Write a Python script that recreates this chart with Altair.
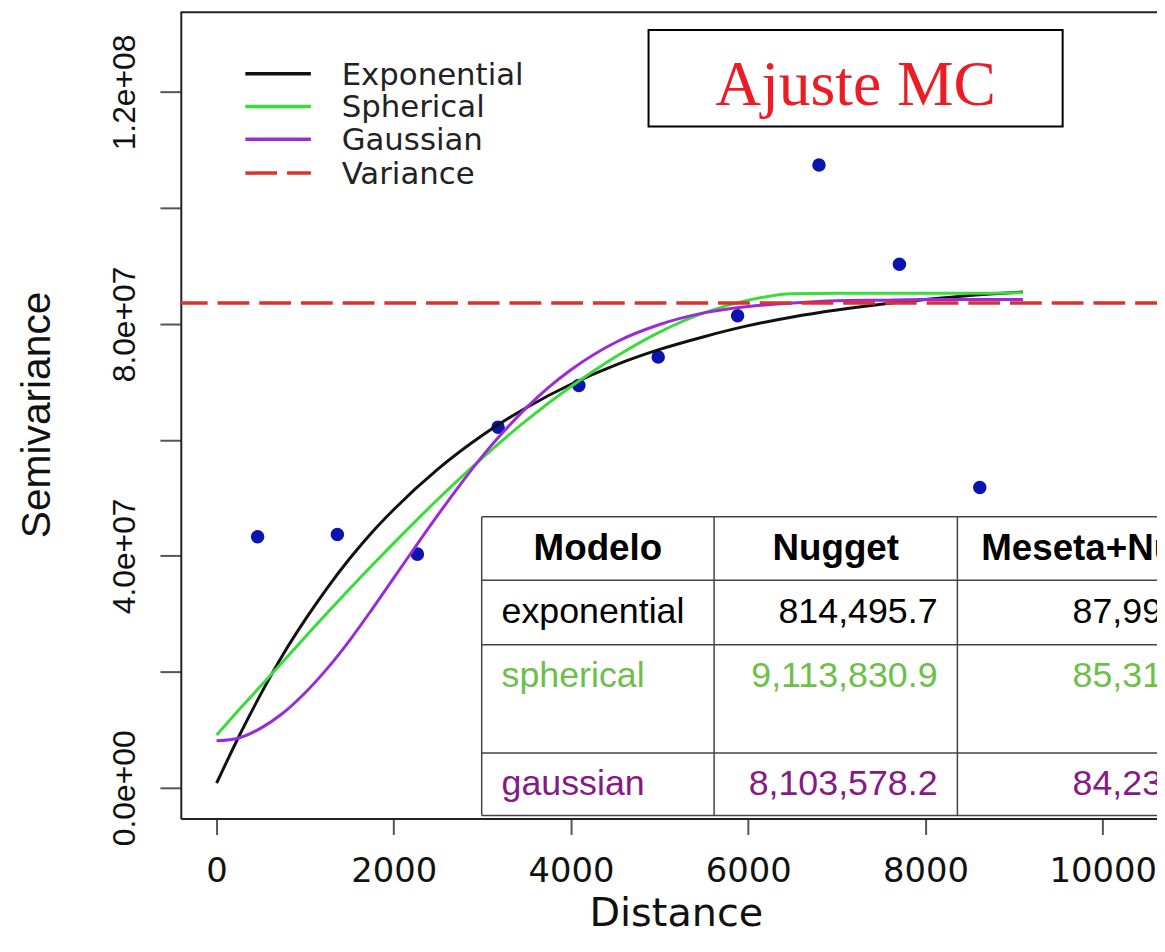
import altair as alt
import pandas as pd

# ---------------- data ----------------
lag_distance = [463, 1363, 2266, 3177, 4088, 4984, 5880, 6798, 7706, 8613]
semivariance = [43.3e6, 43.7e6, 40.3e6, 62.2e6, 69.4e6, 74.3e6, 81.4e6, 107.4e6, 90.3e6, 51.8e6]

exp_dist = [0, 250, 500, 750, 1000, 1250, 1500, 1750, 2000, 2500, 3000, 3500, 4000,
            4500, 5000, 5500, 6000, 6500, 7000, 7500, 8000, 8500, 9100]
exp_gamma = [0.8e6, 8.8e6, 16.2e6, 23.0e6, 29.0e6, 34.5e6, 39.5e6, 44.0e6, 48.0e6, 55.0e6,
             60.8e6, 65.6e6, 69.6e6, 72.9e6, 75.6e6, 77.8e6, 79.7e6, 81.2e6, 82.4e6, 83.4e6,
             84.2e6, 84.9e6, 85.5e6]

sph_dist = [0, 250, 500, 750, 1000, 1250, 1500, 1750, 2000, 2500, 3000, 3500, 4000,
            4500, 5000, 5500, 6000, 6500, 7000, 7500, 8000, 8500, 9100]
sph_gamma = [9.1e6, 13.4e6, 17.6e6, 21.8e6, 26.0e6, 30.2e6, 34.3e6, 38.3e6, 42.2e6, 49.8e6,
             56.9e6, 63.4e6, 69.2e6, 74.3e6, 78.6e6, 81.9e6, 84.1e6, 85.2e6, 85.3e6, 85.3e6,
             85.3e6, 85.3e6, 85.4e6]

gau_dist = [0, 250, 500, 750, 1000, 1250, 1500, 1750, 2000, 2250, 2500, 2750, 3000, 3250,
            3500, 3750, 4000, 4500, 5000, 5500, 6000, 6500, 7000, 7500, 8000, 8500, 9100]
gau_gamma = [8.1e6, 8.6e6, 10.3e6, 12.9e6, 16.4e6, 20.6e6, 25.4e6, 30.7e6, 36.2e6, 41.7e6,
             47.1e6, 52.3e6, 57.2e6, 61.6e6, 65.6e6, 69.1e6, 72.1e6, 76.8e6, 79.9e6, 81.9e6,
             83.0e6, 83.6e6, 84.0e6, 84.1e6, 84.2e6, 84.2e6, 84.2e6]

variance = 83.6e6

x_tick_values = [0, 2000, 4000, 6000, 8000, 10000]
y_tick_values = [0, 2e7, 4e7, 6e7, 8e7, 1e8, 1.2e8]
y_tick_labels = ["0.0e+00", "", "4.0e+07", "", "8.0e+07", "", "1.2e+08"]

legend_labels = ["Exponential", "Spherical", "Gaussian", "Variance"]
table_header = ["Modelo", "Nugget", "Meseta+Nugget"]
table_models = ["exponential", "spherical", "gaussian"]
table_nugget = ["814,495.7", "9,113,830.9", "8,103,578.2"]
table_sill_visible = ["87,99", "85,31", "84,23"]
annotation_text = "Ajuste MC"

# ---------------- styling / layout ----------------
W, H = 983, 813
C_EXP, C_SPH, C_GAU, C_VAR = "#111111", "#3ADB3A", "#9A2BD8", "#DD3030"
C_PTS = "#0B14B0"
TXT_GREEN, TXT_PURPLE = "#6CC04A", "#851A85"

x_scale = alt.Scale(domain=[-404, 10613], nice=False, zero=False)
y_scale = alt.Scale(domain=[-5.31e6, 133.93e6], nice=False, zero=False)

label_expr = ""
for v, lab in zip(y_tick_values, y_tick_labels):
    label_expr += f"datum.value == {int(v)} ? '{lab}' : "
label_expr += "''"

x_axis = alt.Axis(
    values=x_tick_values, format="d", title="Distance", grid=False,
    labelFont="DejaVu Sans", labelFontSize=34, labelColor="#111", labelPadding=20,
    labelFlush=False, labelOverlap=False,
    tickSize=16, tickWidth=2, tickColor="#555",
    domainColor="#222", domainWidth=2,
    titleFont="DejaVu Sans", titleFontSize=40, titleFontWeight="normal", titleColor="#111",
    titleX=498.5, titleY=108, titleAlign="center", titleBaseline="alphabetic",
)
y_axis = alt.Axis(
    values=y_tick_values, labelExpr=label_expr, title="Semivariance", grid=False,
    labelFont="Liberation Sans", labelFontSize=32, labelColor="#111",
    labelAngle=270, labelAlign="center", labelBaseline="alphabetic", labelPadding=26,
    labelFlush=False, labelOverlap=False,
    tickSize=21, tickWidth=2, tickColor="#555",
    domainColor="#222", domainWidth=2,
    titleFont="Liberation Sans", titleFontSize=41, titleFontWeight="normal", titleColor="#111",
    titleAngle=270, titleX=-132, titleY=406, titleAlign="center", titleBaseline="alphabetic",
)

X = alt.X("h:Q", scale=x_scale, axis=x_axis)
Y = alt.Y("g:Q", scale=y_scale, axis=y_axis)

layers = []

pts = pd.DataFrame({"h": lag_distance, "g": semivariance})
layers.append(alt.Chart(pts).mark_circle(size=185, color=C_PTS, opacity=1).encode(x=X, y=Y))

for hs, gs, col in [(exp_dist, exp_gamma, C_EXP), (sph_dist, sph_gamma, C_SPH), (gau_dist, gau_gamma, C_GAU)]:
    df = pd.DataFrame({"h": hs, "g": gs})
    layers.append(alt.Chart(df).mark_line(color=col, strokeWidth=3, interpolate="monotone").encode(x=X, y=Y))

layers.append(
    alt.Chart(pd.DataFrame({"g": [variance]}))
    .mark_rule(color=C_VAR, strokeWidth=3.5, strokeDash=[32, 10], strokeDashOffset=10)
    .encode(y=Y)
)

one = alt.Data(values=[{"k": 0}])

# top frame line
layers.append(alt.Chart(one).mark_rule(color="#222", strokeWidth=2).encode(
    x=alt.value(0), x2=alt.value(W), y=alt.value(1)))

# legend
leg_colors = [C_EXP, C_SPH, C_GAU, C_VAR]
leg_y = [63, 96, 129, 163]
for lab, col, ly in zip(legend_labels, leg_colors, leg_y):
    kw = dict(color=col, strokeWidth=3.5)
    if lab == "Variance":
        kw["strokeDash"] = [32, 10]
    layers.append(alt.Chart(one).mark_rule(**kw).encode(
        x=alt.value(65), x2=alt.value(131), y=alt.value(ly)))
    layers.append(alt.Chart(one).mark_text(
        align="left", baseline="alphabetic", font="DejaVu Sans", fontSize=31, color="#222"
    ).encode(x=alt.value(162), y=alt.value(ly + 11), text=alt.value(lab)))

# "Ajuste MC" box
layers.append(alt.Chart(one).mark_rect(fill="white", stroke="black", strokeWidth=2).encode(
    x=alt.value(471), x2=alt.value(888), y=alt.value(19), y2=alt.value(116)))
layers.append(alt.Chart(one).mark_text(
    font="Liberation Serif", fontSize=64, color="#ED1C24", align="center", baseline="alphabetic"
).encode(x=alt.value(679.5), y=alt.value(94), text=alt.value(annotation_text)))

# table
T_L, T_R, T_T, T_B = 303, 1000, 509, 810
col_x = [303, 537, 782]
row_y = [509, 573, 638, 747, 810]
layers.append(alt.Chart(one).mark_rect(fill="white").encode(
    x=alt.value(T_L), x2=alt.value(T_R), y=alt.value(T_T), y2=alt.value(T_B)))
for ry in row_y:
    layers.append(alt.Chart(one).mark_rule(color="#444", strokeWidth=1.5).encode(
        x=alt.value(T_L), x2=alt.value(T_R), y=alt.value(ry)))
for cx in col_x:
    layers.append(alt.Chart(one).mark_rule(color="#444", strokeWidth=1.5).encode(
        x=alt.value(cx), y=alt.value(T_T), y2=alt.value(T_B)))

head_pos = [(420, "center"), (659.5, "center"), (806, "left")]
for txt, (hx, al) in zip(table_header, head_pos):
    layers.append(alt.Chart(one).mark_text(
        font="Liberation Sans", fontSize=37, fontWeight="bold", color="#000", align=al, baseline="alphabetic"
    ).encode(x=alt.value(hx), y=alt.value(553), text=alt.value(txt)))

row_base = [616, 680, 789]
row_cols = ["#000000", TXT_GREEN, TXT_PURPLE]
for m, n, s, by, col in zip(table_models, table_nugget, table_sill_visible, row_base, row_cols):
    common = dict(font="Liberation Sans", fontSize=36, color=col, baseline="alphabetic")
    layers.append(alt.Chart(one).mark_text(align="left", **common).encode(
        x=alt.value(323), y=alt.value(by), text=alt.value(m)))
    layers.append(alt.Chart(one).mark_text(align="right", **common).encode(
        x=alt.value(762), y=alt.value(by), text=alt.value(n)))
    layers.append(alt.Chart(one).mark_text(align="left", **common).encode(
        x=alt.value(898), y=alt.value(by), text=alt.value(s)))

chart = alt.layer(*layers).properties(
    width=W, height=H,
    autosize=alt.AutoSizeParams(type="none"),
    padding={"left": 174, "top": 0, "right": 0, "bottom": 118},
    background="white",
).configure_view(stroke=None)

chart.save("out.html", embed_options={"renderer": "svg", "actions": False})
